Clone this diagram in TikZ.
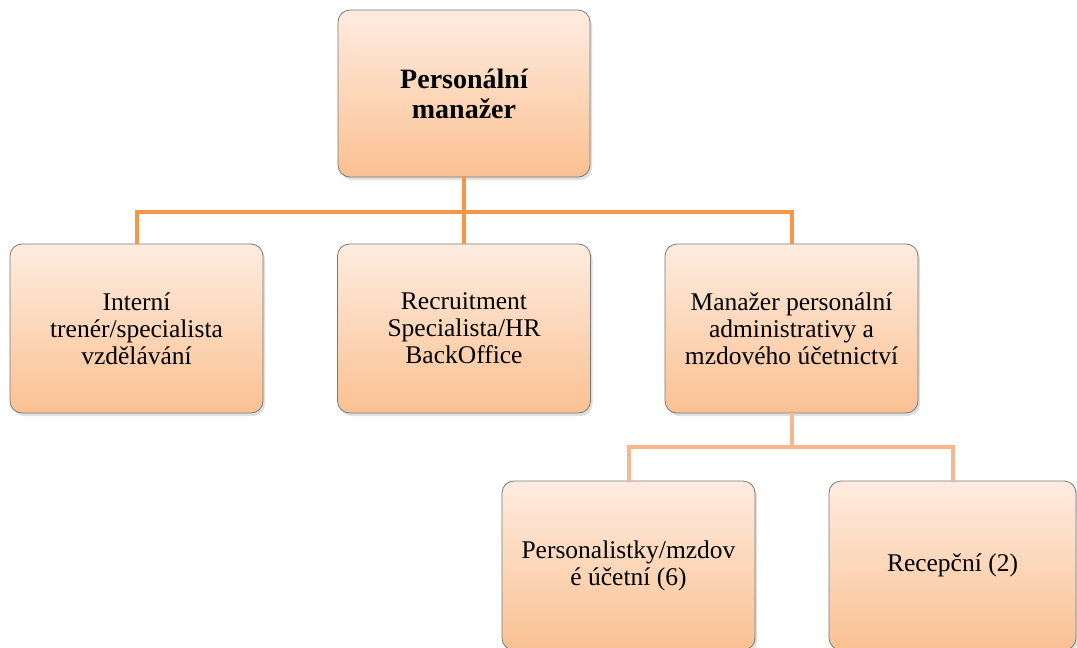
\documentclass[tikz,border=0pt]{standalone}
\usepackage{fontspec}
\newfontfamily\tnr{Liberation Serif}
\usetikzlibrary{shadows}
\definecolor{boxtop}{RGB}{254,236,224}
\definecolor{boxbot}{RGB}{250,193,146}
\definecolor{boxline}{RGB}{120,120,120}
\definecolor{connA}{RGB}{247,150,70}
\definecolor{connB}{RGB}{250,182,140}
\tikzset{
  orgbox/.style={draw=boxline, line width=0.8pt, rounded corners=12pt,
    top color=boxtop, bottom color=boxbot, inner sep=0pt, align=center,
    minimum width=253pt, minimum height=169pt,
    font=\tnr\fontsize{25.5}{27}\selectfont,
    drop shadow={shadow xshift=2pt, shadow yshift=-3pt, opacity=0.25}},
  titlebox/.style={orgbox, font=\tnr\fontsize{28}{30}\selectfont\bfseries},
  linkA/.style={draw=connA, line width=4pt},
  linkB/.style={draw=connB, line width=4pt}
}
\begin{document}
\begin{tikzpicture}[x=1pt,y=-1pt]
\useasboundingbox (0,0) rectangle (1077,648);
\fill[white] (0,0) rectangle (1077,648);
\coordinate (busA) at (464,212);
\coordinate (busB) at (791.5,447);
\node[titlebox, minimum width=252pt, minimum height=167pt] (top) at (464,93.5) {Personální\\manažer};
\node[orgbox] (interni) at (136.5,328.5) {Interní\\trenér/specialista\\vzdělávání};
\node[orgbox] (recruit) at (464,328.5) {Recruitment\\Specialista/HR\\BackOffice};
\node[orgbox] (manazer) at (791.5,328.5) {Manažer personální\\administrativy a\\mzdového účetnictví};
\node[orgbox] (personal) at (628.5,565.5) {Personalistky/mzdov\\é účetní (6)};
\node[orgbox, minimum width=247pt] (recep) at (952.5,565.5) {Recepční (2)};
\draw[linkA] (top.south) -- (busA);
\draw[linkA] (interni.north) |- (busA) -| (manazer.north);
\draw[linkA] (busA) -- (recruit.north);
\draw[linkB] (manazer.south) -- (busB);
\draw[linkB] (personal.north) |- (busB) -| (recep.north);
\end{tikzpicture}
\end{document}
